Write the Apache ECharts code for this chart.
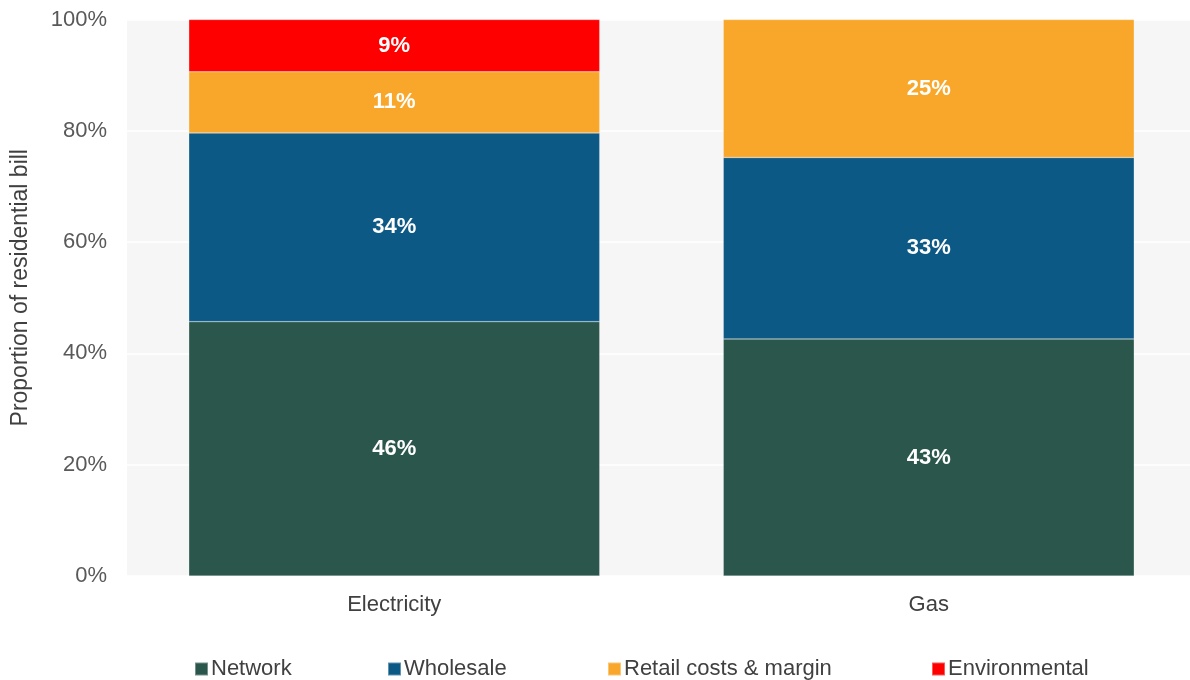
<!DOCTYPE html>
<html><head><meta charset="utf-8">
<script src="https://cdn.jsdelivr.net/npm/echarts@6/dist/echarts.min.js"></script>
<style>html,body{margin:0;padding:0;background:#fff;overflow:hidden}#c{width:1200px;height:680px}</style>
</head><body><div id="c"></div>
<script>
const categories = ['Electricity', 'Gas'];
const seriesNames = ['Network', 'Wholesale', 'Retail costs & margin', 'Environmental'];
const network = [45.7, 42.6];
const wholesale = [33.9, 32.6];
const retail = [11.0, 24.8];
const environmental = [9.4, 0];
const yTicks = [0, 20, 40, 60, 80, 100];
const colors = ['#2b564c', '#0d5985', '#f9a72a', '#ff0000'];

const font = 'Liberation Sans, Arial, sans-serif';
const fs = 22;
const legendLeft = [189, 382, 602, 926];
const chart = echarts.init(document.getElementById('c'));
const values = [network, wholesale, retail, environmental];
chart.setOption({
  animation: false,
  color: colors,
  grid: { left: 127, right: 4, top: 19.5, bottom: 104, containLabel: false,
          show: true, backgroundColor: '#f6f6f6', borderWidth: 0 },
  legend: seriesNames.map((n, i) => ({
    top: 653, left: legendLeft[i], itemWidth: 13, itemHeight: 13, icon: 'rect',
    textStyle: { fontFamily: font, fontSize: fs, color: '#404040', padding: [0,0,0,-2] },
    data: [n]
  })),
  xAxis: {
    type: 'category', data: categories,
    axisLine: { show: false }, axisTick: { show: false },
    axisLabel: { fontFamily: font, fontSize: fs, color: '#404040', margin: 18 }
  },
  yAxis: {
    type: 'value', min: yTicks[0], max: yTicks[yTicks.length-1], interval: 20,
    name: 'Proportion of residential bill', nameLocation: 'middle', nameGap: 95,
    nameTextStyle: { fontFamily: font, fontSize: 23, color: '#404040', padding: [0,0,0,20] },
    axisLabel: { fontFamily: font, fontSize: fs, color: '#595959', margin: 20, formatter: v => v + '%' },
    splitLine: { lineStyle: { color: '#ffffff', width: 1.5 } },
    axisLine: { show: false }, axisTick: { show: false }
  },
  series: seriesNames.map((n, i) => ({
    name: n, type: 'bar', stack: 'total', barWidth: 411,
    data: values[i].map(v => v === 0 ? null : v),
    itemStyle: { color: colors[i], borderColor: 'rgba(255,255,255,0.35)', borderWidth: 0.6 },
    label: { show: true, position: 'inside', color: '#ffffff', fontWeight: 'bold',
             fontFamily: font, fontSize: fs, formatter: p => Math.round(p.value) + '%' }
  }))
});
</script></body></html>
